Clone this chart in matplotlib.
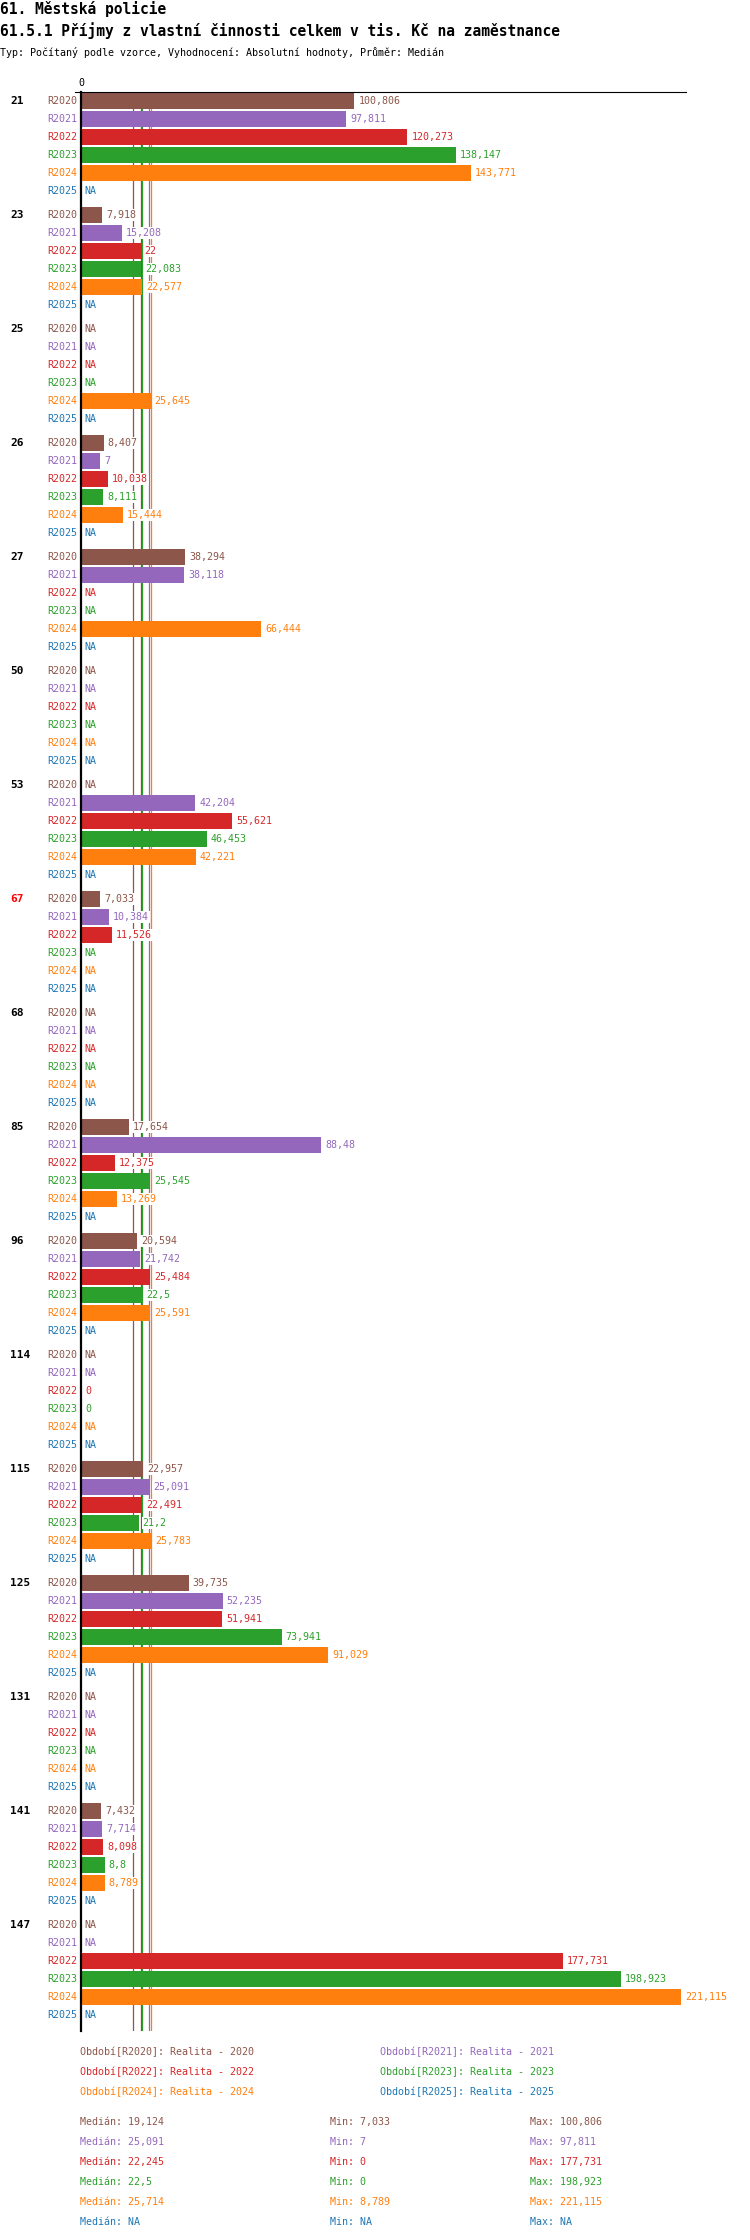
import numpy as np
import matplotlib
matplotlib.use('Agg')
import matplotlib.pyplot as plt
from matplotlib import transforms
from matplotlib.lines import Line2D

# data (tis. Kč na zaměstnance), NaN = NA
na = np.nan
groups = ['21', '23', '25', '26', '27', '50', '53', '67', '68', '85', '96',
          '114', '115', '125', '131', '141', '147']
periods = ['R2020', 'R2021', 'R2022', 'R2023', 'R2024', 'R2025']
period_names = ['Realita - 2020', 'Realita - 2021', 'Realita - 2022',
                'Realita - 2023', 'Realita - 2024', 'Realita - 2025']
colors = ['#8c564b', '#9467bd', '#d62728', '#2ca02c', '#ff7f0e', '#1f77b4']

r2020 = [100.806, 7.918, na, 8.407, 38.294, na, na, 7.033, na, 17.654, 20.594,
         na, 22.957, 39.735, na, 7.432, na]
r2021 = [97.811, 15.208, na, 7, 38.118, na, 42.204, 10.384, na, 88.48, 21.742,
         na, 25.091, 52.235, na, 7.714, na]
r2022 = [120.273, 22, na, 10.038, na, na, 55.621, 11.526, na, 12.375, 25.484,
         0, 22.491, 51.941, na, 8.098, 177.731]
r2023 = [138.147, 22.083, na, 8.111, na, na, 46.453, na, na, 25.545, 22.5,
         0, 21.2, 73.941, na, 8.8, 198.923]
r2024 = [143.771, 22.577, 25.645, 15.444, 66.444, na, 42.221, na, na, 13.269, 25.591,
         na, 25.783, 91.029, na, 8.789, 221.115]
r2025 = [na] * 17
series = [r2020, r2021, r2022, r2023, r2024, r2025]


def fmt(v):
    if v is None or np.isnan(v):
        return 'NA'
    return f'{round(v, 3):g}'.replace('.', ',')


def stat(f, vals):
    a = np.array(vals, dtype=float)
    if np.all(np.isnan(a)):
        return na
    return round(float(f(a)), 3)


W, H = 750, 2240
plt.rcParams['font.family'] = ['DejaVu Sans Mono']
fs = 7.2
fig = plt.figure(figsize=(W / 100, H / 100), dpi=100)

# titulky
fig.text(0, 1 - 9 / H, '61. Městská policie', fontsize=10.5, fontweight='bold', va='center')
fig.text(0, 1 - 31 / H, '61.5.1 Příjmy z vlastní činnosti celkem v tis. Kč na zaměstnance',
         fontsize=10.5, fontweight='bold', va='center')
fig.text(0, 1 - 52 / H, 'Typ: Počítaný podle vzorce, Vyhodnocení: Absolutní hodnoty, Průměr: Medián',
         fontsize=fs, va='center')

left, right, top, bottom = 81, 686, 92, 2031
ax = fig.add_axes([left / W, 1 - bottom / H, (right - left) / W, (bottom - top) / H])
px_per_unit = 2.713
ax.set_xlim(0, (right - left) / px_per_unit)
period_step = 6 + 1 / 3
ax.set_ylim(-0.5 + (bottom - top) / 18, -0.5)

for s in ['right', 'bottom']:
    ax.spines[s].set_visible(False)
ax.spines['left'].set_linewidth(1.6)
ax.spines['top'].set_linewidth(0.8)
fig.add_artist(Line2D([75 / W, left / W], [1 - top / H, 1 - top / H], color='black', linewidth=0.8))
ax.xaxis.tick_top()
ax.set_xticks([0])
ax.set_xticklabels(['0'], fontsize=fs)
ax.tick_params(axis='x', length=0, pad=3)
ax.set_yticks([])

# mediány jako svislé čáry
for k in range(6):
    m = stat(np.nanmedian, series[k])
    if not np.isnan(m):
        ax.axvline(m, color=colors[k], linewidth=0.9, zorder=1)

grp_tr = transforms.blended_transform_factory(fig.transFigure, ax.transData)
for g, name in enumerate(groups):
    y0 = g * period_step
    ax.text(10 / W, y0, name, transform=grp_tr, fontsize=8, fontweight='bold',
            va='center', ha='left', color='#ff0000' if name == '67' else 'black')
    for k in range(6):
        y = y0 + k
        v = series[k][g]
        ax.annotate(periods[k], xy=(0, y), xytext=(-4, 0), textcoords='offset pixels',
                    ha='right', va='center', fontsize=fs, color=colors[k])
        if np.isnan(v):
            ax.annotate('NA', xy=(0, y), xytext=(3, 0), textcoords='offset pixels',
                        ha='left', va='center', fontsize=fs, color=colors[k], zorder=4)
            continue
        ax.barh(y, v, height=16 / 18, color=colors[k], zorder=2)
        ax.annotate(fmt(v), xy=(v, y), xytext=(4, 0), textcoords='offset pixels',
                    ha='left', va='center', fontsize=fs, color=colors[k], zorder=4,
                    bbox=dict(facecolor='white', edgecolor='none', pad=0.5))

# legenda
for k in range(6):
    x = 80 if k % 2 == 0 else 380
    y = 2052 + 20 * (k // 2)
    fig.text(x / W, 1 - y / H, f'Období[{periods[k]}]: {period_names[k]}',
             fontsize=fs, color=colors[k], va='center')

# statistiky
for k in range(6):
    y = 2122 + 20 * k
    fig.text(80 / W, 1 - y / H, 'Medián: ' + fmt(stat(np.nanmedian, series[k])),
             fontsize=fs, color=colors[k], va='center')
    fig.text(330 / W, 1 - y / H, 'Min: ' + fmt(stat(np.nanmin, series[k])),
             fontsize=fs, color=colors[k], va='center')
    fig.text(530 / W, 1 - y / H, 'Max: ' + fmt(stat(np.nanmax, series[k])),
             fontsize=fs, color=colors[k], va='center')

fig.savefig('out.png', dpi=100)
